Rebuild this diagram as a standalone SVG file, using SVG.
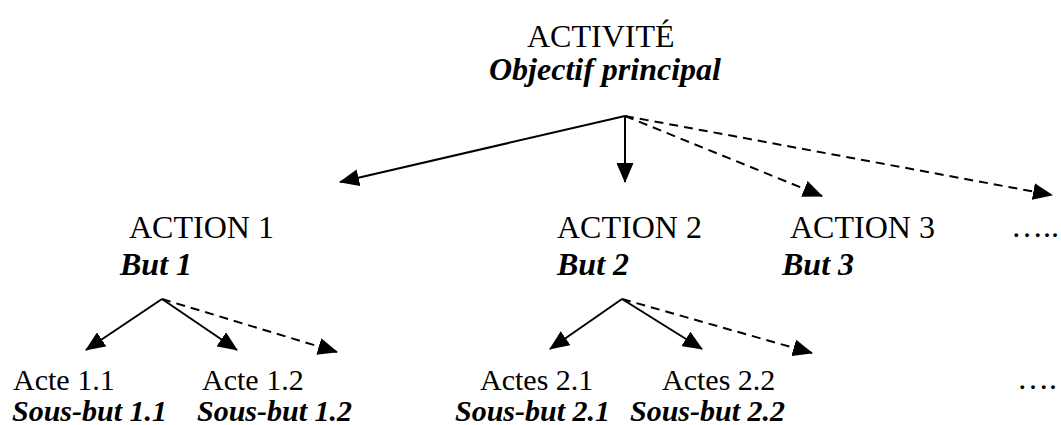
<svg xmlns="http://www.w3.org/2000/svg" width="1061" height="425" viewBox="0 0 1061 425">
<style>
text{font-family:"Liberation Serif","Times New Roman",serif;fill:#000}
.t{font-size:32px}
.s{font-size:30px}
.bi{font-weight:bold;font-style:italic}
.c{stroke:#000;stroke-width:2;fill:none;marker-end:url(#ah)}
.d{stroke-dasharray:9 6}
</style>
<defs>
<marker id="ah" markerUnits="userSpaceOnUse" markerWidth="20" markerHeight="17" refX="19" refY="8.5" orient="auto">
<path d="M0,0 L20,8.5 L0,17 z" fill="#000"/>
</marker>
</defs>
<rect width="1061" height="425" fill="#fff"/>
<g id="activite">
<text class="t" x="527" y="47">ACTIVITÉ</text>
<text class="t bi" x="489" y="80">Objectif principal</text>
</g>
<g id="action1">
<text class="t" x="129" y="238">ACTION 1</text>
<text class="t bi" x="120" y="275">But 1</text>
</g>
<g id="action2">
<text class="t" x="557" y="238">ACTION 2</text>
<text class="t bi" x="557" y="275">But 2</text>
</g>
<g id="action3">
<text class="t" x="790" y="238">ACTION 3</text>
<text class="t bi" x="782" y="275">But 3</text>
</g>
<g id="action-more">
<text class="t" x="1011" y="237">…..</text>
</g>
<g id="acte11">
<text class="s" x="13" y="390">Acte 1.1</text>
<text class="s bi" x="12" y="421">Sous-but 1.1</text>
</g>
<g id="acte12">
<text class="s" x="202" y="390">Acte 1.2</text>
<text class="s bi" x="197" y="421">Sous-but 1.2</text>
</g>
<g id="acte21">
<text class="s" x="480" y="390">Actes 2.1</text>
<text class="s bi" x="455" y="421">Sous-but 2.1</text>
</g>
<g id="acte22">
<text class="s" x="662" y="390">Actes 2.2</text>
<text class="s bi" x="630" y="421">Sous-but 2.2</text>
</g>
<g id="acte-more">
<text class="t" x="1017" y="389">….</text>
</g>
<g id="connectors">
<line class="c" x1="625" y1="116" x2="340" y2="182"/>
<line class="c" x1="625" y1="116" x2="625" y2="182"/>
<line class="c d" x1="625" y1="116" x2="822" y2="196"/>
<line class="c d" x1="625" y1="116" x2="1052" y2="195"/>
<line class="c" x1="162" y1="299" x2="86" y2="350"/>
<line class="c" x1="162" y1="299" x2="237" y2="350"/>
<line class="c d" x1="162" y1="299" x2="337" y2="352"/>
<line class="c" x1="622" y1="299" x2="550" y2="349"/>
<line class="c" x1="622" y1="299" x2="702" y2="349"/>
<line class="c d" x1="622" y1="299" x2="812" y2="353"/>
</g>
</svg>
